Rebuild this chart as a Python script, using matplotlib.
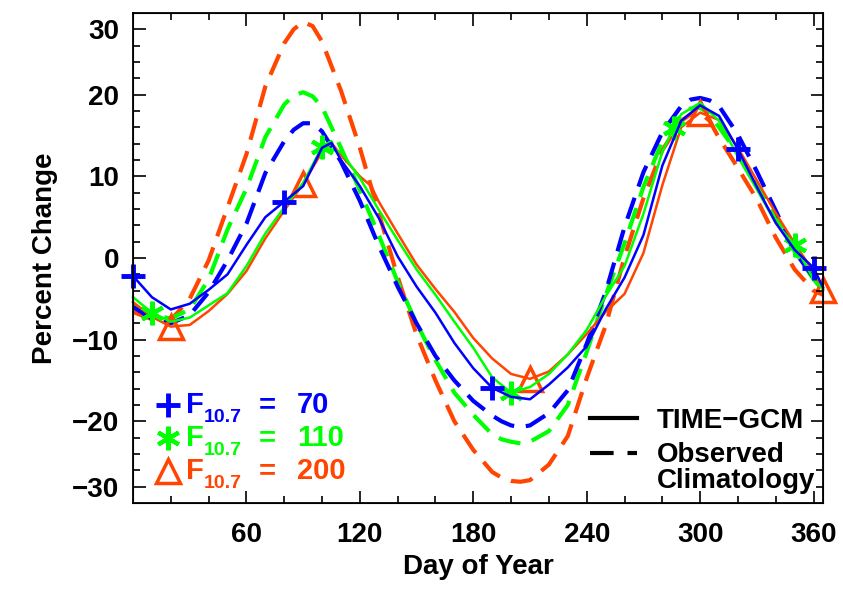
import matplotlib
matplotlib.use('Agg')
import matplotlib.pyplot as plt
from matplotlib.lines import Line2D

plt.rcParams['font.family'] = ['Liberation Sans', 'DejaVu Sans']
plt.rcParams['font.weight'] = 'bold'
plt.rcParams['lines.scale_dashes'] = False

# --- data ---
days = [0, 10, 20, 30, 40, 50, 60, 70, 80, 85, 90, 95, 100, 110, 120, 130, 140, 150, 160, 170, 180,
        190, 195, 200, 205, 210, 220, 230, 240, 250, 260, 270, 280, 290, 295, 300, 305, 310, 320, 330,
        340, 350, 360, 365]

# observed climatology (dashed)
obs_70 = [-6.0, -7.4, -8.0, -7.0, -4.2, -0.3, 4.2, 10.4, 14.3, 15.7, 16.5, 16.5, 15.5, 11.8, 7.0, 1.5,
          -3.5, -8.0, -12.0, -15.0, -17.5, -19.3, -20.0, -20.5, -20.7, -20.5, -19.0, -16.2, -10.5, -4.2,
          3.8, 10.5, 15.4, 18.6, 19.4, 19.6, 19.3, 18.6, 15.1, 10.6, 5.8, 0.8, -2.4, -3.5]
obs_110 = [-5.8, -7.0, -7.4, -6.3, -2.6, 3.5, 8.5, 14.8, 18.8, 19.9, 20.3, 19.8, 18.5, 13.5, 8.3, 2.8,
           -2.9, -8.0, -12.5, -16.5, -19.2, -21.6, -22.2, -22.5, -22.7, -22.5, -21.2, -18.0, -11.5, -4.6,
           1.8, 8.7, 14.3, 17.5, 18.3, 18.4, 17.6, 16.0, 12.8, 9.0, 5.0, 0.8, -2.6, -4.0]
obs_200 = [-6.6, -7.5, -7.6, -5.0, -0.3, 6.2, 12.7, 21.0, 26.3, 28.0, 28.9, 28.4, 26.5, 20.5, 13.5, 5.5,
           -2.3, -9.4, -15.0, -20.0, -23.5, -26.2, -26.9, -27.3, -27.4, -27.2, -25.3, -21.8, -14.7, -8.3,
           0.1, 7.3, 13.2, 16.8, 17.6, 17.8, 16.8, 14.7, 11.0, 7.2, 2.5, -1.4, -4.0, -4.5]

# TIME-GCM (solid)
days_70 = [0, 10, 20, 30, 40, 50, 60, 70, 80, 90, 100, 105, 110, 120, 130, 140, 150, 160, 170, 180,
           190, 200, 210, 220, 230, 240, 250, 260, 270, 280, 290, 300, 310, 320, 330, 340, 350, 360, 365]
gcm_70 = [-2.2, -4.8, -6.3, -5.6, -3.9, -2.0, 1.6, 5.0, 6.9, 8.8, 13.5, 14.1, 12.0, 8.8, 4.9, 0.2, -3.5,
          -6.7, -10.4, -13.5, -15.9, -17.0, -17.3, -15.5, -13.4, -10.8, -6.3, -2.4, 2.8, 11.3, 16.8,
          18.7, 17.4, 13.3, 8.7, 4.3, 1.0, -1.2, -3.6]
mark_70 = [0, 80, 190, 320, 360]

days_110 = [0, 10, 20, 30, 40, 50, 60, 70, 80, 90, 100, 110, 120, 130, 140, 150, 160, 170, 180,
            190, 200, 210, 220, 230, 240, 250, 260, 270, 280, 286, 290, 300, 310, 320, 330, 340, 350, 360, 365]
gcm_110 = [-4.8, -6.7, -7.8, -7.3, -5.8, -4.3, -1.0, 3.0, 6.2, 9.2, 13.6, 13.0, 9.8, 5.9, 2.2, -1.4,
           -4.5, -7.8, -11.0, -14.6, -16.5, -15.8, -14.2, -11.8, -8.8, -4.7, -1.0, 5.4, 13.0, 15.9, 17.6,
           19.0, 16.8, 12.4, 8.4, 4.3, 1.6, -2.6, -3.8]
mark_110 = [10, 100, 200, 286, 350]

days_200 = [0, 10, 20, 30, 40, 50, 60, 70, 80, 90, 100, 105, 110, 120, 126, 130, 140, 150, 160, 170, 180,
            190, 200, 210, 220, 230, 240, 250, 260, 270, 280, 290, 300, 310, 320, 330, 340, 350, 360, 365]
gcm_200 = [-5.4, -7.2, -8.4, -8.2, -6.5, -4.4, -1.6, 2.4, 5.8, 9.1, 13.0, 14.1, 12.6, 10.0, 8.8, 6.9, 3.0,
           -0.8, -3.8, -6.6, -9.8, -12.3, -14.2, -14.8, -13.9, -11.8, -9.3, -6.6, -4.4, 0.6, 8.9, 16.0,
           17.8, 16.9, 13.5, 9.5, 5.5, 1.8, -1.7, -3.9]
mark_200 = [20, 90, 210, 300, 365]

blue = '#0000FF'
green = '#00FF00'
red = '#FF4500'

W, H = 843, 590
fig = plt.figure(figsize=(W / 100, H / 100), dpi=100)
ax = fig.add_axes([133 / W, 1 - 503 / H, (823 - 133) / W, (503 - 13) / H])

dash = (16, 8.5)
ax.plot(days, obs_200, color=red, lw=3, dashes=dash)
ax.plot(days, obs_110, color=green, lw=3, dashes=dash)
ax.plot(days, obs_70, color=blue, lw=3, dashes=dash)

ax.plot(days_200, gcm_200, color=red, lw=1.8, marker='^', ms=17, mfc='none', mew=2.5,
        markevery=[days_200.index(d) for d in mark_200], clip_on=False)
ax.plot(days_110, gcm_110, color=green, lw=1.8, marker=(6, 2, 0), ms=17, mew=3,
        markevery=[days_110.index(d) for d in mark_110], clip_on=False)
ax.plot(days_70, gcm_70, color=blue, lw=1.8, marker='+', ms=17, mew=3.5,
        markevery=[days_70.index(d) for d in mark_70], clip_on=False)

ax.set_xlim(0, 365)
ax.set_ylim(-30, 30)
ax.set_xticks(range(60, 361, 60))
ax.set_xticks(range(20, 365, 20), minor=True)
ax.set_yticks([-28, -20, -10, 0, 10, 20, 28])
ax.set_yticklabels(['\u221230', '\u221220', '\u221210', '0', '10', '20', '30'])
ax.set_yticks(range(-28, 29, 2), minor=True)
ax.tick_params(which='both', direction='in', top=True, right=False, labelsize=20, width=1.2)
ax.tick_params(which='major', length=9)
ax.tick_params(which='minor', length=5)
ax.tick_params(axis='y', pad=10)
ax.tick_params(axis='x', pad=14)
for sp in ax.spines.values():
    sp.set_linewidth(1.3)

ax2 = ax.twinx()
ax2.set_ylim(-30, 30)
ax2.set_yticks(range(-20, 21, 10))
ax2.set_yticks(range(-28, 29, 2), minor=True)
ax2.tick_params(which='both', direction='in', labelright=False, width=1.2)
ax2.tick_params(which='major', length=9)
ax2.tick_params(which='minor', length=5)

ax.set_xlabel('Day of Year', fontsize=20, fontweight='bold', labelpad=4)
ax.set_ylabel('Percent Change', fontsize=20, fontweight='bold', labelpad=10)


def fx(x):
    return x / W


def fy(y):
    return 1 - y / H


# left legend (F10.7 levels)
rows = [('+', blue, '70', 413, dict(ms=17, mew=3.5)),
        ((6, 2, 0), green, '110', 446, dict(ms=17, mew=3)),
        ('^', red, '200', 479, dict(ms=17, mew=2.5, mfc='none'))]
for mk, col, val, base, kw in rows:
    fig.add_artist(Line2D([fx(168)], [fy(base - 8)], marker=mk, color=col,
                          transform=fig.transFigure, **kw))
    fig.text(fx(186), fy(base), 'F', color=col, fontsize=21, va='baseline')
    fig.text(fx(204), fy(base + 9), '10.7', color=col, fontsize=14, va='baseline')
    fig.text(fx(259), fy(base), '=', color=col, fontsize=21, va='baseline')
    fig.text(fx(297), fy(base), val, color=col, fontsize=21, va='baseline')

# right legend (line styles)
fig.add_artist(Line2D([fx(590), fx(637)], [fy(418), fy(418)], color='black', lw=3,
                      transform=fig.transFigure))
fig.add_artist(Line2D([fx(590), fx(637)], [fy(453), fy(453)], color='black', lw=3,
                      dashes=(17, 10), transform=fig.transFigure))
fig.text(fx(657), fy(428), 'TIME\u2212GCM', fontsize=20, va='baseline')
fig.text(fx(657), fy(462), 'Observed', fontsize=20, va='baseline')
fig.text(fx(657), fy(488), 'Climatology', fontsize=20, va='baseline')

fig.savefig('out.png', dpi=100)
